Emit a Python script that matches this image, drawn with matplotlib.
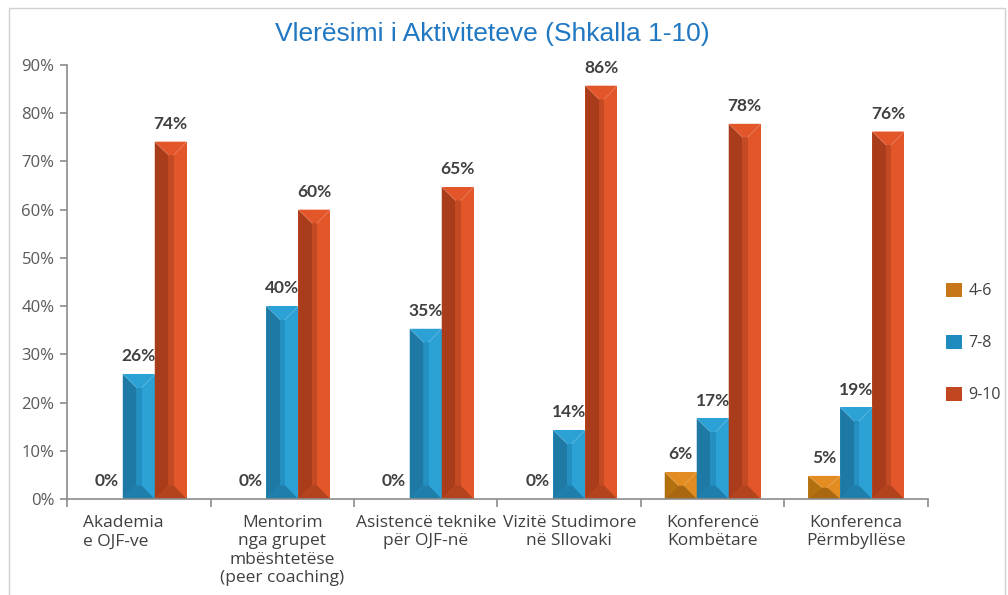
import matplotlib
matplotlib.use("Agg")
import matplotlib.pyplot as plt
import matplotlib.transforms as mtransforms
from matplotlib.patches import Polygon, Rectangle, Patch

categories = ["Akademia\ne OJF-ve", "Mentorim\nnga grupet\nmbështetëse\n(peer coaching)",
              "Asistencë teknike\npër OJF-në", "Vizitë Studimore\nnë Sllovaki",
              "Konferencë\nKombëtare", "Konferenca\nPërmbyllëse"]
series_names = ["4-6", "7-8", "9-10"]
v_46 = [0.0, 0.0, 0.0, 0.0, 5.6, 4.8]
v_78 = [25.9, 40.0, 35.3, 14.3, 16.7, 19.0]
v_910 = [74.1, 60.0, 64.7, 85.7, 77.8, 76.2]
yticks = [0, 10, 20, 30, 40, 50, 60, 70, 80, 90]
title = "Vlerësimi i Aktiviteteve (Shkalla 1-10)"

# colours: (light face, dark left face, mid strip, bottom face, legend)
palette = {
    "4-6": ("#E38C22", "#B3700F", "#C97C18", "#A9680F", "#C8761A"),
    "7-8": ("#2BA1D6", "#1E7AA4", "#2490C1", "#1F7FAA", "#1F8BBE"),
    "9-10": ("#E35629", "#A93D1B", "#C34A22", "#B3431D", "#C0471F"),
}

plt.rcParams['font.family'] = ['Open Sans', 'DejaVu Sans']

fig = plt.figure(figsize=(10.08, 5.95), dpi=100)
ax = fig.add_axes([0.0665, 0.1613, 0.8541, 0.7295])

# figure border
fig.patches.append(Rectangle((9/1008, -0.1), (1005-9)/1008, 1.1 - 8/595,
                             transform=fig.transFigure, fill=False,
                             edgecolor="#D0D0D0", linewidth=1.0))

width = 0.223
bevel = 2.8
offsets = [-width, 0.0, width]
all_series = [v_46, v_78, v_910]

def draw_bar(xc, h, cols):
    light, dark, mid, bottom, _ = cols
    if h <= 0:
        return
    x0, x1 = xc - width / 2, xc + width / 2
    xm1, xm2 = x0 + 0.43 * width, x0 + 0.59 * width
    d = min(bevel, h / 2)
    ax.add_patch(Polygon([(x0, 0), (x1, 0), (x1, h), (x0, h)], closed=True,
                         facecolor=light, edgecolor="none"))
    ax.add_patch(Polygon([(x0, 0), (xm1, d), (xm1, h - d), (x0, h)], closed=True,
                         facecolor=dark, edgecolor="none"))
    ax.add_patch(Polygon([(xm1, d), (xm2, d), (xm2, h - d), (xm1, h - d)], closed=True,
                         facecolor=mid, edgecolor="none"))
    ax.add_patch(Polygon([(x0, 0), (x1, 0), (xm2, d), (xm1, d)], closed=True,
                         facecolor=bottom, edgecolor="none"))
    ax.add_patch(Polygon([(x0, h), (x1, h), (xm2, h - d), (xm1, h - d)], closed=True,
                         facecolor=light, edgecolor="none"))
    ax.plot([x0, xm1], [h, h - d], color="#FFFFFF", alpha=0.25, lw=0.6)
    ax.plot([x1, xm2], [h, h - d], color="#FFFFFF", alpha=0.25, lw=0.6)

for si, (name, vals) in enumerate(zip(series_names, all_series)):
    for ci, v in enumerate(vals):
        xc = ci + 0.5 + offsets[si]
        draw_bar(xc, v, palette[name])
        if v > 0 or si == 0:
            ax.annotate(f"{v:.0f}%", (xc, v), xytext=(0, 7), textcoords="offset points",
                        ha="center", va="bottom", fontsize=12.5, fontweight="bold",
                        color="#404040", family=["Lato", "DejaVu Sans"])

ax.set_xlim(0, 6)
ax.set_ylim(0, 90)
ax.set_yticks(yticks)
ax.set_yticklabels([f"{t}%" for t in yticks], fontsize=12, color="#595959")
ax.set_xticks(range(7))
ax.set_xticklabels([""] * 7)

# category labels below the axis
base_tr = ax.get_xaxis_transform()
for ci, cat in enumerate(categories):
    shift = -0.16 if ci == 0 else 0.0
    tr = base_tr + mtransforms.ScaledTranslation(shift, -0.16, fig.dpi_scale_trans)
    ax.text(ci + 0.5, 0, cat, transform=tr, ha="center", va="top",
            multialignment="left" if ci == 0 else "center",
            fontsize=12.5, color="#404040", linespacing=1.2)

ax.tick_params(axis="x", which="major", length=6, color="#8C8C8C", width=1.2, direction="out")
ax.tick_params(axis="y", length=5, color="#8C8C8C", width=1.2, direction="out", pad=4)

for s in ["top", "right"]:
    ax.spines[s].set_visible(False)
for s in ["left", "bottom"]:
    ax.spines[s].set_color("#8C8C8C")
    ax.spines[s].set_linewidth(1.2)

fig.text(0.488, 0.943, title, ha="center", va="center", fontsize=19,
         color="#2077C2", family=["Liberation Sans", "DejaVu Sans"])

handles = [Patch(facecolor=palette[n][4], edgecolor="none") for n in series_names]
fig.legend(handles, series_names, loc="center left", bbox_to_anchor=(0.938, 0.4235),
           frameon=False, fontsize=11.5, labelspacing=2.2, handlelength=1.05,
           handleheight=1.05, handletextpad=0.4, labelcolor="#404040",
           borderpad=0, borderaxespad=0)

fig.savefig("out.png", dpi=100)
